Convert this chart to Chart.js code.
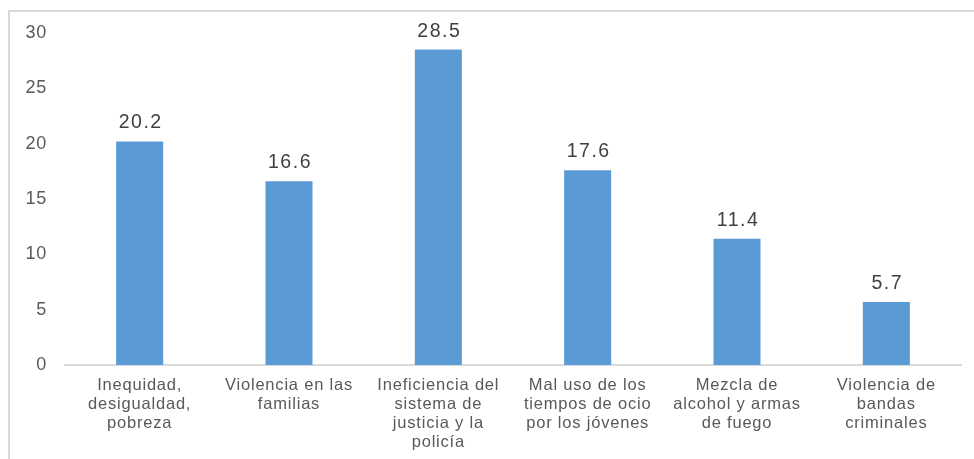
<!DOCTYPE html>
<html>
<head>
<meta charset="utf-8">
<script src="https://cdn.jsdelivr.net/npm/chart.js@4/dist/chart.umd.min.js"></script>
<style>
  html, body { margin: 0; padding: 0; background: #fff; }
  #frame { position: absolute; left: 0; top: 0; width: 974px; height: 459px; }
  #border { position: absolute; left: 8px; top: 10px; width: 966px; height: 449px;
            border-top: 2px solid #d9d9d9; border-left: 2px solid #d9d9d9; box-sizing: border-box; }
  canvas { position: absolute; left: 0; top: 0; }
</style>
</head>
<body>
<div id="frame">
  <div id="border"></div>
  <canvas id="c" width="974" height="459"></canvas>
</div>
<script>
const categories = [
  ["Inequidad,", "desigualdad,", "pobreza"],
  ["Violencia en las", "familias"],
  ["Ineficiencia del", "sistema de", "justicia y la", "policía"],
  ["Mal uso de los", "tiempos de ocio", "por los jóvenes"],
  ["Mezcla de", "alcohol y armas", "de fuego"],
  ["Violencia de", "bandas", "criminales"]
];
const values = [20.2, 16.6, 28.5, 17.6, 11.4, 5.7];
const yTicks = [0, 5, 10, 15, 20, 25, 30];

const FONT = '"Liberation Sans", Arial, sans-serif';

const spacing = {
  id: 'spacing',
  beforeDraw(chart) {
    chart.ctx.letterSpacing = '0.8px';
  }
};

const valueLabels = {
  id: 'valueLabels',
  afterDatasetsDraw(chart) {
    const ctx = chart.ctx;
    const meta = chart.getDatasetMeta(0);
    ctx.save();
    ctx.letterSpacing = '1.5px';
    ctx.font = '19.5px ' + FONT;
    ctx.fillStyle = '#404040';
    ctx.textAlign = 'center';
    ctx.textBaseline = 'alphabetic';
    meta.data.forEach((bar, i) => {
      ctx.fillText(values[i].toFixed(1), bar.x + 1, bar.y - 13);
    });
    ctx.restore();
  }
};

new Chart(document.getElementById('c'), {
  type: 'bar',
  data: {
    labels: categories,
    datasets: [{
      data: values,
      backgroundColor: '#5B9BD5',
      borderWidth: 0,
      barPercentage: 0.315,
      categoryPercentage: 1.0
    }]
  },
  options: {
    responsive: false,
    animation: false,
    devicePixelRatio: 1,
    layout: { padding: { left: 0, top: 33, right: 13, bottom: 0 } },
    plugins: { legend: { display: false }, tooltip: { enabled: false } },
    scales: {
      x: {
        grid: { display: false, drawTicks: false },
        border: { display: true, color: '#d9d9d9', width: 2 },
        ticks: {
          color: '#595959',
          font: { family: FONT, size: 16.5, lineHeight: 1.15 },
          padding: 11,
          maxRotation: 0,
          autoSkip: false
        },
        afterFit(s) { s.height = 94; }
      },
      y: {
        min: 0, max: 30,
        grid: { display: false, drawTicks: false },
        border: { display: false },
        afterBuildTicks(s) { s.ticks = yTicks.map(v => ({ value: v })); },
        ticks: {
          color: '#595959',
          font: { family: FONT, size: 18 },
          padding: 18
        },
        afterFit(s) { s.width = 65; }
      }
    }
  },
  plugins: [spacing, valueLabels]
});
</script>
</body>
</html>
